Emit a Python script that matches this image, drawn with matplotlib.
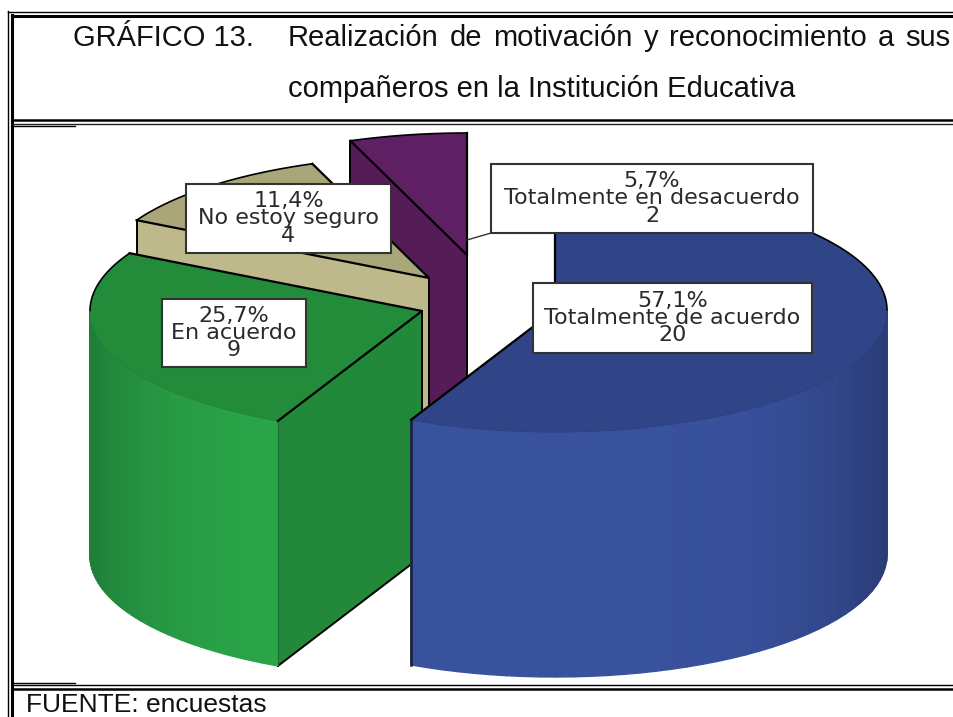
import numpy as np
import matplotlib
matplotlib.use('Agg')
import matplotlib.pyplot as plt
from matplotlib.colors import to_rgb
from matplotlib.patches import Polygon, Rectangle

# Slices, clockwise from 12 o'clock
categories = ['Totalmente de acuerdo', 'En acuerdo', 'No estoy seguro', 'Totalmente en desacuerdo']
counts = [20, 9, 4, 2]

# Exploded centre of each slice, in pixels
centerX = [555, 422, 429, 467]
centerY = [310, 311, 278, 255]
topColors = ['#2F4587', '#238C3A', '#A9A67A', '#5F1F63']
wallColors = ['#2F4587', '#22883A', '#BDB98A', '#561C58']
outerLight = ['#39529E', '#2AA649', '#BDB98A', '#561C58']
outerDark = ['#2A3C76', '#1F7E38', '#BDB98A', '#561C58']

# Label boxes: left, top, right, bottom
boxes = [(533, 283, 812, 353), (162, 299, 306, 367), (186, 184, 391, 253), (491, 164, 813, 233)]

titleWords = ['Realización', 'de', 'motivación', 'y', 'reconocimiento', 'a', 'sus']

RX = 332
RY = 122
DEPTH = 245


def rim(cx, cy, angle):
    return cx + RX * np.sin(angle), cy - RY * np.cos(angle)


def mix(c1, c2, t):
    return tuple((1 - t) * np.array(to_rgb(c1)) + t * np.array(to_rgb(c2)))


def drawSlice(ax, cx, cy, start, end, i, z):
    # Cut wall that faces the viewer
    sx, sy = rim(cx, cy, start)
    ex, ey = rim(cx, cy, end)
    ax.add_patch(Polygon([(cx, cy), (sx, sy), (sx, sy + DEPTH), (cx, cy + DEPTH)],
                         fc=wallColors[i], ec='none', zorder=z))
    ax.plot([sx, sx], [sy, sy + DEPTH], color='black', lw=1.4, zorder=z)
    ax.plot([cx, cx], [cy, cy + DEPTH], color='black', lw=1.4, zorder=z)
    ax.plot([sx, cx], [sy + DEPTH, cy + DEPTH], color='black', lw=1.4, zorder=z)

    # Outer wall as thin strips, only the front half shows
    a0 = max(start, np.pi / 2)
    a1 = min(end, 3 * np.pi / 2)
    if a1 > a0:
        edges = np.linspace(a0, a1, 41)
        for k in range(40):
            x0, y0 = rim(cx, cy, edges[k])
            x1, y1 = rim(cx, cy, edges[k + 1])
            # bright towards the viewer's side, dark at the far side
            t = abs(np.sin(edges[k])) ** 4
            col = mix(outerLight[i], outerDark[i], t)
            ax.add_patch(Polygon([(x0, y0), (x1, y1), (x1, y1 + DEPTH), (x0, y0 + DEPTH)],
                                 fc=col, ec=col, lw=1.0, zorder=z))
        rimX, rimY = rim(cx, cy, np.linspace(a0, a1, 80))
        ax.plot(rimX, rimY, color=outerDark[i], lw=0.7, zorder=z)

    # Wall edge where the outer wall stops short of the side
    if a1 > a0 and end < 3 * np.pi / 2:
        ax.plot([ex, ex], [ey, ey + DEPTH], color='#1a2030', lw=1.8, zorder=z)

    # Top face
    angles = np.linspace(start, end, 120)
    topX, topY = rim(cx, cy, angles)
    ax.add_patch(Polygon(np.column_stack([np.r_[cx, topX], np.r_[cy, topY]]), fc=topColors[i], ec='none', zorder=z))
    ax.plot([sx, cx, ex], [sy, cy, ey], color='black', lw=1.6, zorder=z)

    # Back part of the rim has a black outline
    back = (angles < np.pi / 2) | (angles > 3 * np.pi / 2)
    if back.any():
        ax.plot(topX[back], topY[back], color='black', lw=1.2, zorder=z)


def drawFrame(ax):
    # Table rules copied from the document
    z = 8
    ax.plot([8, 8], [11, 717], color='black', lw=1.0, zorder=z)
    ax.plot([12, 12], [15, 717], color='black', lw=2.2, zorder=z)
    ax.plot([8, 954], [12, 12], color='black', lw=1.0, zorder=z)
    ax.plot([12, 954], [16, 16], color='black', lw=2.2, zorder=z)
    ax.plot([12, 954], [119.5, 119.5], color='black', lw=1.8, zorder=z)
    ax.plot([12, 954], [123.5, 123.5], color='#222222', lw=1.0, zorder=z)
    ax.plot([12, 75], [125.5, 125.5], color='black', lw=1.0, zorder=z)
    ax.plot([12, 75], [683, 683], color='black', lw=1.0, zorder=z)
    ax.plot([12, 954], [684.5, 684.5], color='black', lw=1.0, zorder=z)
    ax.plot([12, 954], [689, 689], color='black', lw=1.8, zorder=z)


def justifiedLine(fig, ax, words, left, right, y, size):
    # Word positions spread out so the line fills the cell
    renderer = fig.canvas.get_renderer()
    items = [ax.text(left, y, w, family='Liberation Sans', fontsize=size, color='#111111') for w in words]
    widths = [t.get_window_extent(renderer).width for t in items]
    gap = (right - left - sum(widths)) / (len(words) - 1)
    x = left
    for t, w in zip(items, widths):
        t.set_x(x)
        x += w + gap


def main():
    fig = plt.figure(figsize=(9.54, 7.17), dpi=100)
    ax = fig.add_axes([0, 0, 1, 1])
    ax.set_xlim(0, 954)
    ax.set_ylim(717, 0)
    ax.axis('off')

    total = sum(counts)
    fractions = np.cumsum([0] + counts) / total * 2 * np.pi

    # Back slices first so the front ones cover them
    for z, i in enumerate([3, 2, 1, 0]):
        drawSlice(ax, centerX[i], centerY[i], fractions[i], fractions[i + 1], i, z + 2)

    drawFrame(ax)

    ax.plot([467, 491], [240, 233], color='#333333', lw=1.0, zorder=6)
    for i, name in enumerate(categories):
        left, top, right, bottom = boxes[i]
        ax.add_patch(Rectangle((left, top), right - left, bottom - top, fc='white', ec='#333333', lw=1.5, zorder=7))
        pct = f'{counts[i] / total * 100:.1f}%'.replace('.', ',')
        ax.text((left + right) / 2, (top + bottom) / 2, f'{pct}\n{name}\n{counts[i]}',
                family='DejaVu Sans', fontsize=16, color='#2a2a2a', ha='center', va='center',
                linespacing=0.83, zorder=9)

    ax.text(73, 46, 'GRÁFICO 13.', family='Liberation Sans', fontsize=21, color='#111111')
    justifiedLine(fig, ax, titleWords, 288, 950, 46, 21)
    ax.text(288, 97, 'compañeros en la Institución Educativa', family='Liberation Sans', fontsize=21, color='#111111')
    ax.text(26, 712, 'FUENTE: encuestas', family='Liberation Sans', fontsize=19, color='#111111')

    fig.savefig('out.png', dpi=100)


main()
